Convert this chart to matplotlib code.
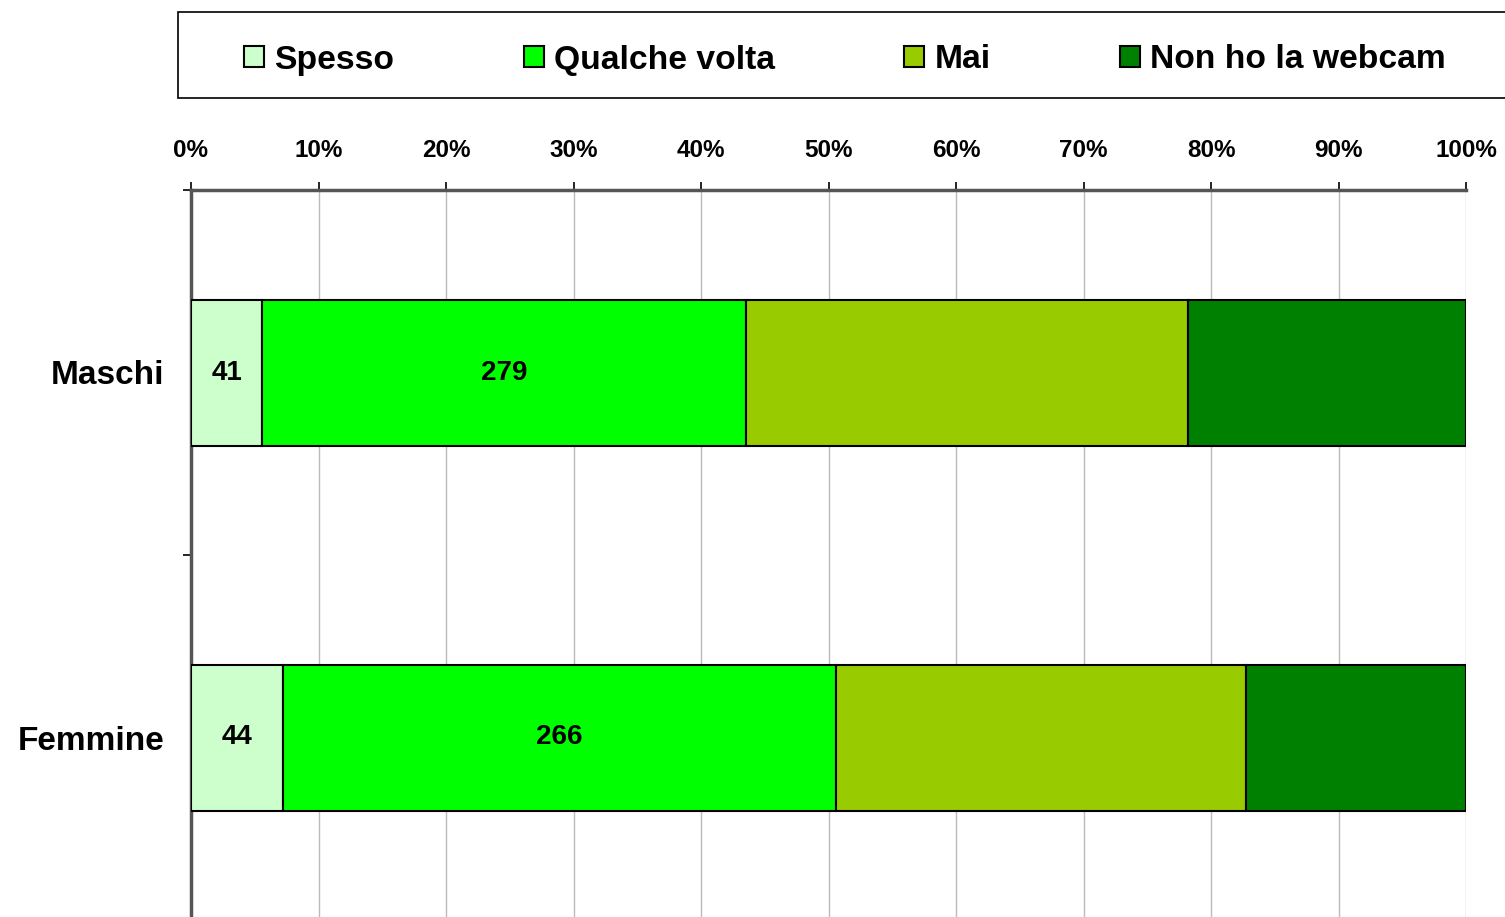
import numpy as np
import matplotlib
matplotlib.use('Agg')
import matplotlib.pyplot as plt
from matplotlib.patches import Rectangle

plt.rcParams['font.family'] = ['Liberation Sans', 'DejaVu Sans']
plt.rcParams['font.weight'] = 'bold'

categories = ['Maschi', 'Femmine']
series = ['Spesso', 'Qualche volta', 'Mai', 'Non ho la webcam']
counts = {
    'Spesso': [41, 44],
    'Qualche volta': [279, 266],
    'Mai': [255, 197],
    'Non ho la webcam': [160, 106],
}
labelled = ['Spesso', 'Qualche volta']
colours = ['#CCFFCC', '#00FF00', '#99CC00', '#008000']
xticks = np.arange(0, 101, 10)

W, H = 1505, 917
fig = plt.figure(figsize=(W / 100, H / 100), dpi=100)
ax = fig.add_axes([191 / W, 1 - 920 / H, 1275 / W, 730 / H])

totals = np.sum([counts[s] for s in series], axis=0)
y = np.arange(len(categories))
left = np.zeros(len(categories))
handles = []
for s, c in zip(series, colours):
    vals = np.array(counts[s], dtype=float)
    pct = vals / totals * 100
    bars = ax.barh(y, pct, left=left, height=0.4, color=c,
                   edgecolor='black', linewidth=1.5, label=s, zorder=3)
    handles.append(bars)
    if s in labelled:
        for yi, l, p, v in zip(y, left, pct, vals):
            ax.text(l + p / 2, yi, f'{int(v)}', ha='center', va='center',
                    fontsize=20, fontweight='bold', zorder=4)
    left += pct

ax.set_xlim(0, 100)
ax.set_ylim(len(categories) - 0.5, -0.5)
ax.xaxis.tick_top()
ax.set_xticks(xticks)
ax.set_xticklabels([f'{t}%' for t in xticks], fontsize=17.5, fontweight='bold')
ax.tick_params(axis='x', direction='out', length=6, width=1.2, pad=14,
               color='black')
ax.grid(axis='x', color='#BBBBBB', linewidth=1, zorder=0)

ax.set_yticks(y)
ax.set_yticklabels(categories, fontsize=24, fontweight='bold')
ax.tick_params(axis='y', which='major', length=0, pad=19)
ax.set_yticks(np.arange(-0.5, len(categories)), minor=True)
ax.tick_params(axis='y', which='minor', direction='out', length=6,
               width=1.2, color='black')

for side in ('right', 'bottom'):
    ax.spines[side].set_visible(False)
ax.spines['top'].set_color('#555555')
ax.spines['top'].set_linewidth(2.5)
ax.spines['left'].set_color('#555555')
ax.spines['left'].set_linewidth(2.5)

# legend frame (runs off the right edge, as in the original)
fig.patches.append(Rectangle((178 / W, 1 - 98 / H), (W + 10 - 178) / W,
                             86 / H, transform=fig.transFigure,
                             facecolor='white', edgecolor='black',
                             linewidth=1.2, zorder=0))
leg = fig.legend(handles=handles, labels=series, loc='center left',
                 bbox_to_anchor=(244 / W, 1 - 60 / H), ncol=4,
                 frameon=False, borderpad=0, borderaxespad=0,
                 handlelength=0.6, handleheight=0.6,
                 handletextpad=0.3, columnspacing=3.85,
                 prop={'weight': 'bold', 'size': 24.2})

fig.savefig('out.png', dpi=100)
